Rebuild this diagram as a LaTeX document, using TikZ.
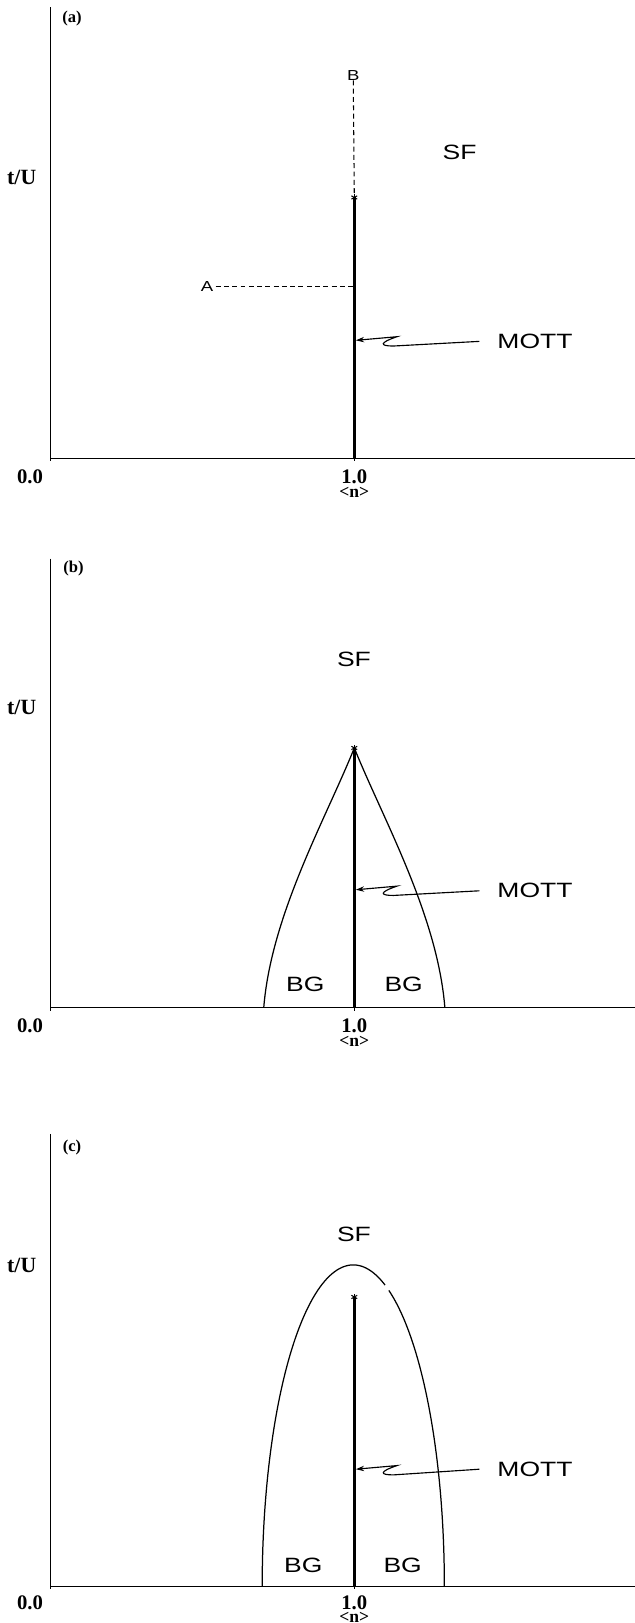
\documentclass[tikz,border=0pt]{standalone}
\usepackage{fontspec}
\setmainfont{Liberation Serif}
\newfontfamily\helvfam[FakeStretch=1.28]{Liberation Sans}
\usetikzlibrary{arrows.meta}
\begin{document}
\begin{tikzpicture}[x=0.5pt,y=-0.5pt,
  axisline/.style={line width=0.6pt},
  mottline/.style={line width=1.5pt},
  phaseline/.style={line width=0.6pt},
  dashline/.style={line width=0.5pt, dash pattern=on 2.4pt off 1.6pt},
  region/.style={font=\helvfam\fontsize{10}{12}\selectfont, inner sep=0pt},
  ptlab/.style={font=\helvfam\fontsize{7}{8}\selectfont, inner sep=0pt},
  ticklab/.style={font=\bfseries\fontsize{10}{12}\selectfont, inner sep=0pt},
  nlab/.style={font=\bfseries\fontsize{8.5}{10}\selectfont, inner sep=0pt},
  ylab/.style={font=\bfseries\fontsize{10.5}{12}\selectfont, inner sep=0pt},
  panlab/.style={font=\bfseries\fontsize{8}{9}\selectfont, inner sep=0pt},
  astline/.style={line width=0.5pt},
  arr/.style={line width=0.55pt, -{Stealth[length=4pt,width=2.6pt]}},
]
\useasboundingbox (0,0) rectangle (613,1568);

% ---------------- panel (a) ----------------
\begin{scope}[shift={(0,442.8)}]
  \coordinate (oA) at (49,0);
  \coordinate (topA) at (49,-436);
  \coordinate (endA) at (613,0);
  \coordinate (oneA) at (342.3,0);
  \draw[axisline] (topA) -- (oA) -- (endA);
  \draw[axisline] (oA) -- ++(0,3);
  \draw[axisline] (oneA) -- ++(0,3);
  \node[ticklab] (zeroLA) at (29,17.5) {0.0};
  \node[ticklab] (oneLA) at (342.3,17.5) {1.0};
  \node[nlab] (nA) at (342.3,32.5) {<n>};
  \node[ylab] (tuA) at (21,-271) {t/U};
  \node[panlab] (labA) at (69.6,-425) {(a)};
  \coordinate (starA) at (342.3,-252);
  \draw[mottline] (starA) -- (oneA);
  \foreach \a in {90,30,-30} \draw[astline] (starA) ++(\a:3.2) -- ++(\a+180:6.4);
  \node[ptlab] (B) at (341.3,-370.3) {B};
  \draw[dashline] (B.south) -- (starA);
  \node[ptlab] (A) at (200,-165.6) {A};
  \coordinate (Aend) at (342.3,-165.6);
  \draw[dashline, shorten <=1pt] (A.east) -- (Aend);
  \node[region] (sfA) at (444,-295.5) {SF};
  \node[region, anchor=west] (mottA) at (480.2,-113) {MOTT};
  \coordinate (tipA) at (343.8,-114);
  \draw[arr] ([xshift=-8.5pt]mottA.west) -- (380,-108.5)
     .. controls (367,-108.5) and (366,-111.5) .. (383.5,-117.5) -- (tipA);
\end{scope}

% ---------------- panel (b) ----------------
\begin{scope}[shift={(0,973.6)}]
  \coordinate (oB) at (49,0);
  \coordinate (topB) at (49,-434);
  \coordinate (endB) at (613,0);
  \coordinate (oneB) at (342.3,0);
  \draw[axisline] (topB) -- (oB) -- (endB);
  \draw[axisline] (oB) -- ++(0,3);
  \draw[axisline] (oneB) -- ++(0,3);
  \node[ticklab] (zeroLB) at (29,17.5) {0.0};
  \node[ticklab] (oneLB) at (342.3,17.5) {1.0};
  \node[nlab] (nB) at (342.3,32.5) {<n>};
  \node[ylab] (tuB) at (21,-290.6) {t/U};
  \node[panlab] (labB) at (71,-424) {(b)};
  \coordinate (starB) at (342.3,-251);
  \draw[mottline] (starB) -- (oneB);
  \foreach \a in {90,30,-30} \draw[astline] (starB) ++(\a:3.2) -- ++(\a+180:6.4);
  \coordinate (bgLB) at (254.8,0);
  \coordinate (bgRB) at (429.8,0);
  \draw[phaseline] (starB) .. controls (315,-183) and (262,-90) .. (bgLB);
  \draw[phaseline] (starB) .. controls (369.6,-183) and (422.6,-90) .. (bgRB);
  \node[region] (sfB) at (342,-336.6) {SF};
  \node[region] (bg1B) at (295,-22.6) {BG};
  \node[region] (bg2B) at (390,-22.6) {BG};
  \node[region, anchor=west] (mottB) at (480.2,-113) {MOTT};
  \coordinate (tipB) at (343.8,-114);
  \draw[arr] ([xshift=-8.5pt]mottB.west) -- (380,-108.5)
     .. controls (367,-108.5) and (366,-111.5) .. (383.5,-117.5) -- (tipB);
\end{scope}

% ---------------- panel (c) ----------------
\begin{scope}[shift={(0,1532.4)}]
  \coordinate (oC) at (49,0);
  \coordinate (topC) at (49,-437);
  \coordinate (endC) at (613,0);
  \coordinate (oneC) at (342.3,0);
  \draw[axisline] (topC) -- (oC) -- (endC);
  \draw[axisline] (oC) -- ++(0,3);
  \draw[axisline] (oneC) -- ++(0,3);
  \node[ticklab] (zeroLC) at (29,16.5) {0.0};
  \node[ticklab] (oneLC) at (342.3,16.5) {1.0};
  \node[nlab] (nC) at (342.3,30) {<n>};
  \node[ylab] (tuC) at (21,-309.4) {t/U};
  \node[panlab] (labC) at (69.6,-423.7) {(c)};
  \coordinate (starC) at (342.3,-279.4);
  \draw[mottline] (starC) -- (oneC);
  \foreach \a in {90,30,-30} \draw[astline] (starC) ++(\a:3.2) -- ++(\a+180:6.4);
  \draw[phaseline] plot[domain=180:69.6, samples=80, smooth] ({341.3+88*cos(\x)}, {-310.4*sin(\x)});
  \draw[phaseline] plot[domain=67.0:0, samples=80, smooth] ({341.3+88*cos(\x)}, {-310.4*sin(\x)});
  \node[region] (sfC) at (342,-339.4) {SF};
  \node[region] (bg1C) at (293,-20) {BG};
  \node[region] (bg2C) at (389,-20) {BG};
  \node[region, anchor=west] (mottC) at (480.2,-113) {MOTT};
  \coordinate (tipC) at (343.8,-113);
  \draw[arr] ([xshift=-8.5pt]mottC.west) -- (380,-107.5)
     .. controls (367,-107.5) and (366,-110.5) .. (383.5,-116.5) -- (tipC);
\end{scope}
\end{tikzpicture}
\end{document}
